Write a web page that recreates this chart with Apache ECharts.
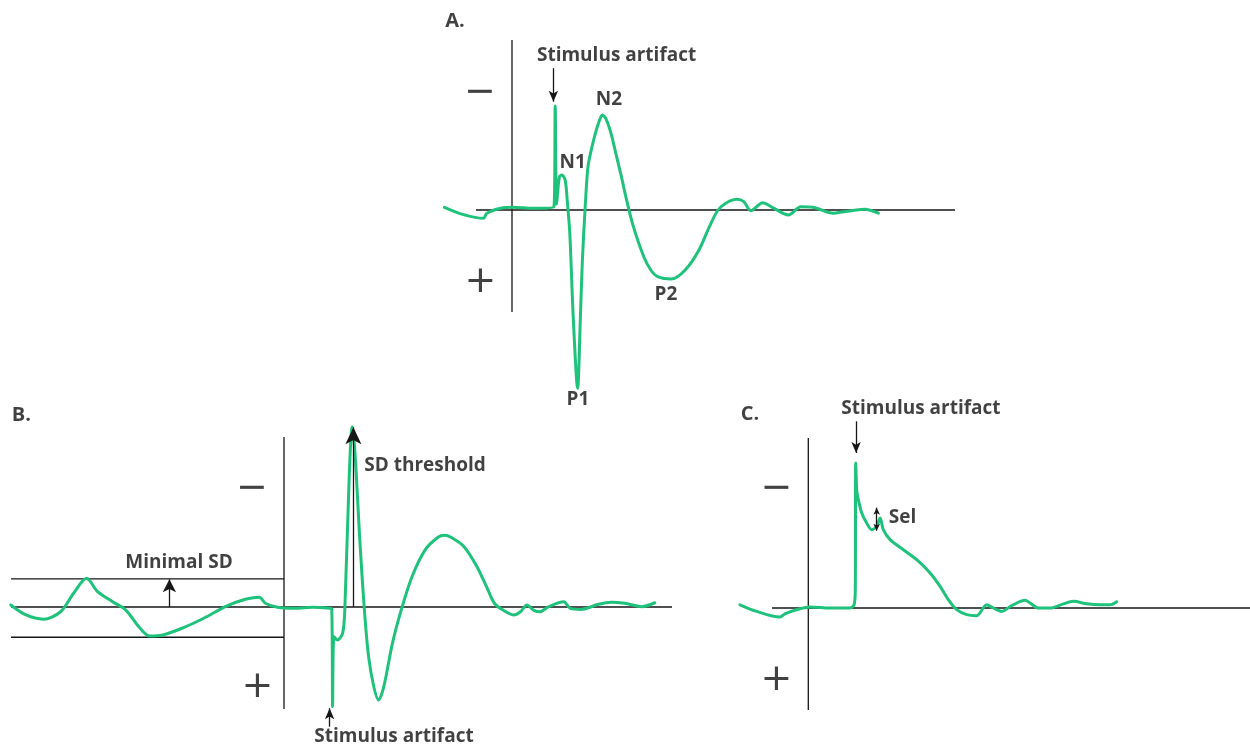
<!DOCTYPE html>
<html>
<head>
<meta charset="utf-8">
<script src="https://cdn.jsdelivr.net/npm/echarts@6/dist/echarts.min.js"></script>
<style>
  html, body { margin: 0; padding: 0; background: #ffffff; }
  #main { width: 1250px; height: 747px; }
</style>
</head>
<body>
<div id="main"></div>
<script>
// Evoked field potential traces: [time, amplitude]; negative amplitude is drawn upward.
const traceA = [
  [-3.38,-0.16],[-2.38,0.29],[-1.43,0.49],[-1.26,0.19],[-0.57,-0.10],[0.04,-0.16],
  [1.07,-0.10],[2.10,-0.19],[2.16,-6.12],[2.23,-0.35],[2.37,-1.96],[2.50,-2.06],
  [2.66,-1.76],[2.76,-0.59],[2.89,1.37],[3.06,6.27],[3.28,10.49],[3.42,6.27],
  [3.52,2.94],[3.66,-0.19],[3.80,-2.55],[4.00,-3.72],[4.17,-4.51],[4.35,-5.19],
  [4.52,-5.59],[4.69,-5.39],[4.95,-4.51],[5.21,-3.24],[5.47,-1.96],[5.73,-0.59],
  [6.07,0.98],[6.59,2.75],[6.94,3.53],[7.28,3.92],[7.97,4.06],[8.66,3.53],
  [9.35,2.35],[9.87,0.98],[10.30,0.00],[10.73,-0.43],[11.25,-0.63],[11.59,-0.49],
  [11.94,0.04],[12.54,-0.43],[12.97,-0.19],[13.83,0.29],[14.44,-0.19],[15.04,-0.16],
  [16.07,0.19],[16.59,0.10],[17.63,-0.04],[18.32,0.19]
];
const traceB = [
  [-13.66,-0.12],[-12.90,0.47],[-12.03,0.72],[-11.17,0.28],[-10.52,-0.81],[-9.87,-1.69],
  [-9.32,-0.90],[-8.57,-0.31],[-7.91,0.18],[-7.26,1.16],[-6.72,1.71],[-6.07,1.65],
  [-5.10,1.25],[-4.01,0.66],[-2.93,-0.02],[-2.06,-0.41],[-1.24,-0.57],[-0.93,-0.22],
  [-0.33,0.02],[0.55,0.08],[1.41,0.02],[2.28,0.08],[2.39,0.14],[2.43,5.86],
  [2.50,1.75],[2.67,1.94],[2.93,1.55],[3.04,0.18],[3.26,-7.66],[3.41,-10.61],
  [3.54,-9.24],[3.80,-3.75],[4.02,0.18],[4.23,2.92],[4.49,4.69],[4.73,5.47],
  [4.99,4.69],[5.42,2.14],[5.86,0.18],[6.40,-1.78],[7.05,-3.35],[7.70,-4.10],
  [8.03,-4.22],[8.35,-4.10],[9.00,-3.55],[9.65,-2.37],[10.20,-1.00],[10.52,-0.22],[10.95,0.18],
  [11.50,0.47],[11.82,0.28],[12.15,-0.12],[12.47,0.18],[12.80,0.28],[13.23,-0.02],
  [13.99,-0.31],[14.31,0.08],[14.86,0.14],[15.72,-0.16],[16.37,-0.28],[17.03,-0.22],
  [17.89,-0.02],[18.54,-0.25]
];
const traceC = [
  [-3.42,-0.19],[-2.58,0.20],[-1.42,0.53],[-1.17,0.34],[-0.42,0.04],[0.09,-0.06],
  [1.09,0.00],[2.09,0.00],[2.29,-0.19],[2.35,-1.08],[2.37,-8.53],[2.42,-6.96],
  [2.47,-6.56],[2.67,-5.59],[2.92,-5.00],[3.17,-4.61],[3.42,-4.80],[3.59,-5.29],
  [3.75,-4.61],[4.09,-4.02],[4.75,-3.43],[5.42,-2.84],[6.09,-2.06],[6.59,-1.27],
  [7.00,-0.49],[7.42,0.10],[7.92,0.39],[8.42,0.45],[8.92,-0.19],[9.25,0.00],
  [9.67,0.20],[10.17,-0.14],[10.84,-0.45],[11.09,-0.29],[11.50,0.00],[12.09,0.00],
  [12.75,-0.24],[13.25,-0.39],[13.92,-0.25],[14.58,-0.19],[15.09,-0.19],[15.42,-0.37]
];

// Reference axes of each panel: time span of the baseline, amplitude span of the vertical axis
const baselineSpans = [[-1.8, 22.15], [-13.65, 19.4], [-1.815, 22.085]];
const verticalSpan = [-10, 6];

// Minimal SD band drawn around the pre-stimulus baseline of trace B
const sdBandLevelsB = [-1.66, 1.78];
const sdBandSpanB = [-13.65, 0];
const sdThresholdB = -10.57;

// Annotation text: [text, time, amplitude]
const labelsA = [
  ['Stimulus artifact', 5.23, -9.06], ['N1', 3.03, -2.76], ['N2', 4.85, -6.47],
  ['P1', 3.30, 11.18], ['P2', 7.70, 5.00]
];
const labelsB = [
  ['Minimal SD', -5.25, -2.59], ['SD threshold', 7.05, -8.29], ['Stimulus artifact', 5.50, 7.63]
];
const labelsC = [
  ['Stimulus artifact', 5.63, -11.72], ['Sel', 4.71, -5.29]
];
const panelTitles = [['A.', -2.85, -11.1], ['B.', -13.13, -11.29], ['C.', -2.92, -11.37]];
const polarityMarks = [
  [['\u2212', -1.60, -6.90], ['+', -1.58, 4.24]],
  [['\u2212', -1.60, -6.94], ['+', -1.33, 4.70]],
  [['\u2212', -1.60, -7.00], ['+', -1.60, 4.22]]
];

// Arrows: [time, fromAmp, toAmp, head, bothEnds]
const arrowsA = [[2.07, -8.34, -6.37, 'small', false]];
const arrowsB = [[-5.73, 0, -1.63, 'mid', false], [3.47, 0, sdThresholdB, 'big', false], [2.28, 7.04, 5.96, 'small', false]];
const arrowsC = [[2.39, -10.98, -9.12, 'small', false], [3.42, -5.90, -4.55, 'tiny', true]];

const GREEN = '#1fc27a';
const INK = '#161616';
const TEXT = '#111111';
const FONT = 'Open Sans';

const chart = echarts.init(document.getElementById('main'), null, { renderer: 'canvas' });

// Plot areas; 20 px per time unit and 17 px per amplitude unit in every panel
const grids = [
  { left: 432, top: 6, width: 540, height: 408, outerBoundsMode: 'none' },
  { left: 4, top: 403, width: 680, height: 340, outerBoundsMode: 'none' },
  { left: 728, top: 404, width: 522, height: 340, outerBoundsMode: 'none' }
];
const xRanges = [[-4, 23], [-14, 20], [-4.015, 22.085]];
const yRanges = [[-12, 12], [-12, 8], [-12, 8]];

const hidden = { show: false };
const xAxes = grids.map((g, i) => ({
  type: 'value', gridIndex: i, min: xRanges[i][0], max: xRanges[i][1],
  axisLine: hidden, axisTick: hidden, axisLabel: hidden, splitLine: hidden
}));
const yAxes = grids.map((g, i) => ({
  type: 'value', gridIndex: i, min: yRanges[i][0], max: yRanges[i][1], inverse: true,
  axisLine: hidden, axisTick: hidden, axisLabel: hidden, splitLine: hidden
}));

const headSizes = { tiny: [5, 7], small: [7, 11], mid: [10, 13], big: [12, 17] };

function segmentSeries(points, gi) {
  return {
    type: 'line', xAxisIndex: gi, yAxisIndex: gi, silent: true, clip: false, showSymbol: false,
    lineStyle: { color: INK, width: 1.3 }, data: points
  };
}

function arrowSeries(arrows, gi) {
  return {
    type: 'line', xAxisIndex: gi, yAxisIndex: gi, data: [], silent: true, clip: false,
    markLine: {
      silent: true, animation: false, label: { show: false },
      lineStyle: { color: INK, width: 1.3, type: 'solid' },
      emphasis: { disabled: true },
      data: arrows.map(([t, a0, a1, size, both]) => [
        { coord: [t, a0], symbol: both ? 'arrow' : 'none', symbolSize: headSizes[size] },
        { coord: [t, a1], symbol: 'arrow', symbolSize: headSizes[size] }
      ])
    }
  };
}

function textSeries(items, gi, style) {
  return {
    type: 'scatter', xAxisIndex: gi, yAxisIndex: gi, silent: true, clip: false,
    symbolSize: 1, itemStyle: { color: 'rgba(0,0,0,0)' },
    label: Object.assign({ show: true, position: 'inside', formatter: '{b}', color: TEXT }, style),
    data: items.map(([txt, t, a]) => ({ name: txt, value: [t, a] }))
  };
}

function traceSeries(data, gi) {
  return {
    type: 'line', xAxisIndex: gi, yAxisIndex: gi, data, clip: false,
    showSymbol: false, smooth: 0.3, silent: true,
    lineStyle: { color: GREEN, width: 3, cap: 'round', join: 'round' }
  };
}

const labelStyle = { fontFamily: FONT, fontWeight: 'bold', fontSize: 19 };
const titleStyle = { fontFamily: FONT, fontWeight: 'bold', fontSize: 20 };
const signStyle = { fontFamily: 'DejaVu Sans', fontWeight: 'normal', fontSize: 38 };

const series = [];
// Axis lines of each panel
baselineSpans.forEach((span, i) => {
  series.push(segmentSeries([[span[0], 0], [span[1], 0]], i));
  series.push(segmentSeries([[0, verticalSpan[0]], [0, verticalSpan[1]]], i));
});
// SD band lines of panel B
sdBandLevelsB.forEach(level => {
  series.push(segmentSeries([[sdBandSpanB[0], level], [sdBandSpanB[1], level]], 1));
});
series.push(traceSeries(traceA, 0), traceSeries(traceB, 1), traceSeries(traceC, 2));
series.push(arrowSeries(arrowsA, 0), arrowSeries(arrowsB, 1), arrowSeries(arrowsC, 2));
series.push(textSeries(labelsA, 0, labelStyle), textSeries(labelsB, 1, labelStyle), textSeries(labelsC, 2, labelStyle));
panelTitles.forEach((p, i) => series.push(textSeries([p], i, titleStyle)));
polarityMarks.forEach((m, i) => series.push(textSeries(m, i, signStyle)));

chart.setOption({
  animation: false,
  backgroundColor: '#ffffff',
  grid: grids,
  xAxis: xAxes,
  yAxis: yAxes,
  series
});
</script>
</body>
</html>
